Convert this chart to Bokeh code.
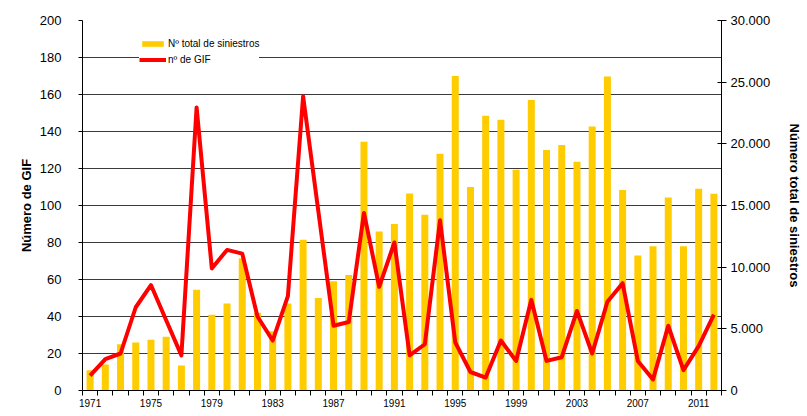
from bokeh.plotting import figure
from bokeh.models import (Range1d, LinearAxis, FixedTicker, Legend, LegendItem,
                          ColumnDataSource)
from bokeh.embed import file_html
from bokeh.resources import INLINE

years = list(range(1971, 2013))
siniestros = [1650, 2100, 3750, 3900, 4125, 4350, 2025, 8175, 6150, 7050,
              10725, 6300, 4800, 7050, 12225, 7500, 8850, 9375, 20175, 12900,
              13500, 15975, 14250, 19200, 25500, 16500, 22275, 21950, 17900, 23550,
              19500, 19900, 18550, 21400, 25450, 16250, 10950, 11700, 15650, 11700,
              16350, 15950]
gif = [8, 17, 20, 45, 57, 38, 19, 153, 66, 76,
       74, 40, 27, 51, 159, 97, 35, 37, 96, 56,
       80, 19, 25, 92, 26, 10, 7, 27, 16, 49,
       16, 18, 43, 20, 48, 58, 16, 6, 35, 11,
       24, 41]
x_label_years = [1971, 1975, 1979, 1983, 1987, 1991, 1995, 1999, 2003, 2007, 2011]
left_ticks = list(range(0, 201, 20))
right_ticks = [0, 5000, 10000, 15000, 20000, 25000, 30000]
right_labels = ["0", "5.000", "10.000", "15.000", "20.000", "25.000", "30.000"]

FONT = "Liberation Sans"

src = ColumnDataSource(dict(year=years, sin=siniestros, gif=gif))

p = figure(width=805, height=414, output_backend="svg", toolbar_location=None,
           x_range=Range1d(years[0] - 0.5, years[-1] + 0.5),
           y_range=Range1d(0, 200),
           min_border_left=82, min_border_right=77, min_border_top=20,
           min_border_bottom=24)
p.outline_line_color = None
p.background_fill_color = "white"
p.border_fill_color = "white"

p.extra_y_ranges = {"sin": Range1d(0, 30000)}

bars = p.vbar(x="year", top="sin", width=0.46, source=src, y_range_name="sin",
              fill_color="#FFCC00", line_color=None)
line = p.line(x="year", y="gif", source=src, line_color="#FF0000", line_width=4,
              line_join="round")

# grid
p.xgrid.visible = False
p.ygrid.ticker = FixedTicker(ticks=left_ticks)
p.ygrid.grid_line_color = "#3a3a3a"
p.ygrid.grid_line_width = 1

# x axis
xa = p.xaxis[0]
xa.ticker = FixedTicker(ticks=x_label_years,
                        minor_ticks=[y - 0.5 for y in years] + [years[-1] + 0.5])
xa.major_tick_out = 0
xa.major_tick_in = 0
xa.minor_tick_out = 5
xa.minor_tick_in = 0
xa.minor_tick_line_color = "black"
xa.axis_line_color = "black"
xa.major_label_standoff = 3
xa.major_label_text_font = FONT
xa.major_label_text_font_size = "10px"
xa.major_label_text_color = "black"

# left axis
ya = p.yaxis[0]
ya.ticker = FixedTicker(ticks=left_ticks)
ya.major_tick_out = 4
ya.major_tick_in = 0
ya.minor_tick_out = 0
ya.minor_tick_in = 0
ya.axis_line_color = "black"
ya.major_label_standoff = 17
ya.major_label_text_font = FONT
ya.major_label_text_font_size = "13px"
ya.major_label_text_color = "black"
ya.axis_label = "Número de GIF"
ya.axis_label_text_font = FONT
ya.axis_label_text_font_size = "13px"
ya.axis_label_text_font_style = "bold"
ya.axis_label_text_color = "black"
ya.axis_label_standoff = 3

# right axis
ra = LinearAxis(y_range_name="sin", ticker=FixedTicker(ticks=right_ticks))
ra.major_label_overrides = {t: l for t, l in zip(right_ticks, right_labels)}
ra.major_tick_out = 5
ra.major_tick_in = 4
ra.minor_tick_out = 0
ra.minor_tick_in = 0
ra.axis_line_color = "black"
ra.major_label_standoff = 4
ra.major_label_text_font = FONT
ra.major_label_text_font_size = "13px"
ra.major_label_text_color = "black"
ra.axis_label = "Número total de siniestros"
ra.axis_label_text_font = FONT
ra.axis_label_text_font_size = "13px"
ra.axis_label_text_font_style = "bold"
ra.axis_label_text_color = "black"
ra.axis_label_standoff = 14
p.add_layout(ra, "right")

legend = Legend(items=[LegendItem(label="Nº total de siniestros", renderers=[bars]),
                       LegendItem(label="nº de GIF", renderers=[line])],
                location=(57, 325))
legend.background_fill_color = "white"
legend.background_fill_alpha = 1
legend.border_line_color = None
legend.margin = 0
legend.padding = 4
legend.spacing = 4
legend.glyph_width = 27
legend.glyph_height = 7
legend.label_height = 12
legend.label_standoff = 2
legend.label_text_font = FONT
legend.label_text_font_size = "10px"
legend.label_text_color = "black"
legend.label_text_baseline = "middle"
p.add_layout(legend, "center")

open("out.html", "w").write(file_html(p, INLINE))
